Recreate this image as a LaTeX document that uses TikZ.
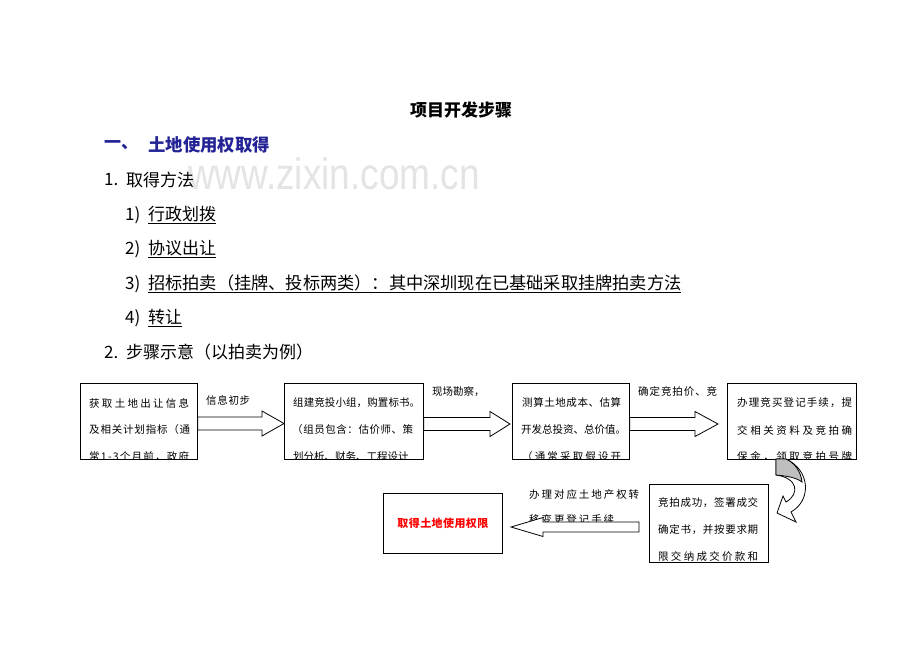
\documentclass[tikz,border=0pt]{standalone}
\usepackage{fontspec}
\setmainfont{Noto Sans CJK SC}
\newfontfamily\wmfont{Liberation Sans}
\usetikzlibrary{calc}
\definecolor{headblue}{RGB}{35,35,150}
\definecolor{wmgray}{RGB}{228,228,228}
\definecolor{twist}{RGB}{190,190,190}
\makeatletter
\def\sp@first#1{#1\sp@rest}
\def\sp@rest#1{\ifx#1\relax\else\hfil#1\expandafter\sp@rest\fi}
\newcommand\jl[2]{\makebox[#1][s]{\sp@first#2\relax}}
\makeatother
\newcommand\blockarr[5]{%
  \draw[blockarrow] ($(#1)+(0,#4)$) -- ($(#2)+(#3,#4)$) -- ($(#2)+(#3,#5)$) -- (#2)
    -- ($(#2)+(#3,-#5)$) -- ($(#2)+(#3,-#4)$) -- ($(#1)+(0,-#4)$) -- cycle;}
\begin{document}
\begin{tikzpicture}[x=1pt,y=-1pt,
  box/.style={draw=black,line width=0.8pt,fill=white,inner sep=0pt,anchor=north west},
  boxtxt/.style={anchor=west,inner sep=0pt,font=\fontsize{10.5}{10.5}\selectfont},
  lbl/.style={anchor=west,inner sep=0pt,font=\fontsize{10.5}{10.5}\selectfont},
  body/.style={anchor=west,inner sep=0pt,font=\fontsize{17}{17}\selectfont},
  blockarrow/.style={draw=black,line width=0.8pt,fill=white,line join=miter},
  wm/.style={anchor=base,inner sep=0pt,text=wmgray,font=\wmfont\fontsize{44}{44}\selectfont,xscale=0.84}]
\useasboundingbox (0,0) rectangle (920,651);
\fill[white] (0,0) rectangle (920,651);
% watermark
\node[wm] (wm) at (334,189) {www.zixin.com.cn};
% headings
\node[body,anchor=center,font=\bfseries\fontsize{17}{17}\selectfont] (title) at (461,110) {项目开发步骤};
\node[body,text=headblue,font=\bfseries\fontsize{17}{17}\selectfont] (h1a) at (104,145) {一、};
\node[body,text=headblue,font=\bfseries\fontsize{17.4}{17.4}\selectfont] (h1b) at (148,145) {土地使用权取得};
\node[body] (n1) at (104,180) {1.};
\node[body] (s1) at (126,180) {取得方法};
\node[body] (m1) at (125,215) {1)};
\node[body] (i1) at (148,215) {\underline{行政划拨}};
\node[body] (m2) at (125,249) {2)};
\node[body] (i2) at (148,249) {\underline{协议出让}};
\node[body] (m3) at (125,284) {3)};
\node[body,font=\fontsize{17.2}{17.2}\selectfont] (i3) at (148,284) {\underline{招标拍卖（挂牌、投标两类）：其中深圳现在已基础采取挂牌拍卖方法}};
\node[body] (m4) at (125,318) {4)};
\node[body] (i4) at (148,318) {\underline{转让}};
\node[body] (n2) at (104,352) {2.};
\node[body] (s2) at (126,352) {步骤示意（以拍卖为例）};
% boxes
\node[box,minimum width=117pt,minimum height=76pt] (b1) at (80,383) {};
\node[box,minimum width=139pt,minimum height=76pt] (b2) at (284,383) {};
\node[box,minimum width=117pt,minimum height=76pt] (b3) at (512,383) {};
\node[box,minimum width=129pt,minimum height=76pt] (b4) at (727,383) {};
\node[box,minimum width=119pt,minimum height=78pt] (b5) at (649,484) {};
\node[box,minimum width=119pt,minimum height=60pt] (b6) at (383,493) {};
\node[anchor=center,inner sep=0pt,text=red,font=\bfseries\fontsize{11}{11}\selectfont] (t6) at (b6.center) {\jl{91pt}{取得土地使用权限}};
% box texts (clipped)
\begin{scope}
\clip (b1.north west) rectangle (b1.south east);
\node[boxtxt] (t1a) at (89,403) {\jl{100pt}{获取土地出让信息}};
\node[boxtxt] (t1b) at (89,430) {\jl{101pt}{及相关计划指标（通}};
\node[boxtxt] (t1c) at (89,457) {\jl{100pt}{常1-3个月前，政府}};
\end{scope}
\begin{scope}
\clip (b2.north west) rectangle (b2.south east);
\node[boxtxt] (t2a) at (293,403) {\jl{127pt}{组建竞投小组，购置标书。}};
\node[boxtxt] (t2b) at (292,430) {\jl{121pt}{（组员包含：估价师、策}};
\node[boxtxt] (t2c) at (293,457) {\jl{115pt}{划分析、财务、工程设计}};
\end{scope}
\begin{scope}
\clip (b3.north west) rectangle (b3.south east);
\node[boxtxt] (t3a) at (522,403) {\jl{99pt}{测算土地成本、估算}};
\node[boxtxt] (t3b) at (521,430) {\jl{101pt}{开发总投资、总价值。}};
\node[boxtxt] (t3c) at (522,457) {\jl{99pt}{（通常采取假设开}};
\end{scope}
\begin{scope}
\clip (b4.north west) rectangle (b4.south east);
\node[boxtxt] (t4a) at (737,403) {\jl{115pt}{办理竞买登记手续，提}};
\node[boxtxt] (t4b) at (737,430) {\jl{115pt}{交相关资料及竞拍确}};
\node[boxtxt] (t4c) at (737,457) {\jl{115pt}{保金，领取竞拍号牌}};
\end{scope}
\begin{scope}
\clip (b5.north west) rectangle (b5.south east);
\node[boxtxt] (t5a) at (658,503) {\jl{100pt}{竞拍成功，签署成交}};
\node[boxtxt] (t5b) at (658,530) {\jl{100pt}{确定书，并按要求期}};
\node[boxtxt] (t5c) at (658,556) {\jl{100pt}{限交纳成交价款和}};
\end{scope}
% arrow labels
\node[lbl] (l1) at (206,400) {\jl{44pt}{信息初步}};
\node[lbl] (l2) at (432,392) {\jl{50pt}{现场勘察，}};
\node[lbl] (l3) at (638,392) {\jl{79pt}{确定竞拍价、竞}};
\node[lbl] (l4) at (529,494) {\jl{110pt}{办理对应土地产权转}};
\begin{scope}
\clip (500,505) rectangle (645,522);
\node[lbl] (l5) at (529,519) {\jl{85pt}{移变更登记手续}};
\end{scope}
% block arrows
\coordinate (a1s) at (b1.east |- 0,423.5);
\coordinate (a1e) at (b2.west |- 0,423.5);
\coordinate (a2s) at (b2.east |- 0,424);
\coordinate (a2e) at (510,424);
\coordinate (a3s) at (b3.east |- 0,424);
\coordinate (a3e) at (718,424);
\coordinate (a4s) at (639,527);
\coordinate (a4e) at (511,527);
\blockarr{a1s}{a1e}{-22}{6.5}{12.5}
\blockarr{a2s}{a2e}{-20}{6.5}{12.5}
\blockarr{a3s}{a3e}{-23}{6.5}{12.5}
\blockarr{a4s}{a4e}{32}{5}{9.5}
% curved arrow from b4 to b5
\coordinate (c1) at (776,459);
\coordinate (c2) at (786,459);
\draw[blockarrow] (c1) -- (776,475) .. controls (798,478) and (800,494) .. (786,502)
  -- (783,496) -- (777,513) -- (796,522) -- (791,512)
  .. controls (812,500) and (810,470) .. (c2) -- cycle;
\draw[draw=black,line width=0.8pt,fill=twist] (c1) -- (776,475)
  .. controls (788,476) and (797,478) .. (802,482)
  .. controls (801,472) and (795,463) .. (c2) -- cycle;
\end{tikzpicture}
\end{document}
